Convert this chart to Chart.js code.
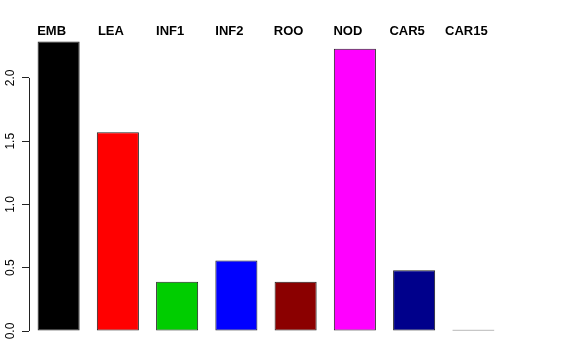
<!DOCTYPE html>
<html>
<head>
<meta charset="utf-8">
<script src="https://cdn.jsdelivr.net/npm/chart.js@4/dist/chart.umd.min.js"></script>
<style>
  html, body { margin: 0; padding: 0; background: #fff; }
  canvas { display: block; }
</style>
</head>
<body>
<canvas id="barChart" width="576" height="360"></canvas>
<script>
// tissue groups and their values
const CATEGORIES = ["EMB", "LEA", "INF1", "INF2", "ROO", "NOD", "CAR5", "CAR15"];
const VALUES = [2.288, 1.571, 0.389, 0.558, 0.389, 2.23, 0.481, 0.01];
const BAR_COLORS = ["#000000", "#ff0000", "#00cd00", "#0000ff", "#8b0000", "#ff00ff", "#00008b", "#333333"];
const Y_TICKS = [0, 0.5, 1, 1.5, 2];

// R style axis line: only from first to last tick
const axisLinePlugin = {
  id: "axisLine",
  afterDraw(chart) {
    const y = chart.scales.y;
    const g = chart.ctx;
    const x = Math.round(y.right) + 0.5;
    g.save();
    g.strokeStyle = "#222";
    g.lineWidth = 1;
    g.beginPath();
    g.moveTo(x, y.getPixelForValue(Y_TICKS[0]));
    g.lineTo(x, y.getPixelForValue(Y_TICKS[Y_TICKS.length - 1]));
    g.stroke();
    g.restore();
  },
};

new Chart(document.getElementById("barChart"), {
  type: "bar",
  data: {
    labels: CATEGORIES,
    datasets: [
      {
        data: VALUES,
        backgroundColor: BAR_COLORS,
        borderColor: "#222",
        borderWidth: 1,
        borderSkipped: false,
        barPercentage: 0.71,
        categoryPercentage: 1,
      },
    ],
  },
  options: {
    responsive: false,
    animation: false,
    layout: { padding: { left: 0, right: 73, top: 0, bottom: 29 } },
    plugins: {
      legend: { display: false },
      tooltip: { enabled: false },
    },
    scales: {
      x: {
        position: "top",
        offset: true,
        grid: { display: false },
        border: { display: false },
        afterFit: (s) => { s.height = 40; },
        ticks: {
          color: "#000",
          font: { family: "Liberation Sans, Arial, sans-serif", size: 13, weight: "bold" },
          autoSkip: false,
          maxRotation: 0,
          labelOffset: -7,
          padding: -7,
        },
      },
      y: {
        min: 0,
        max: 2.3,
        afterFit: (s) => { s.width = 29; },
        afterBuildTicks: (s) => { s.ticks = Y_TICKS.map((v) => ({ value: v })); },
        grid: {
          drawOnChartArea: false,
          color: "#222",
          tickLength: 7,
        },
        border: { display: false },
        ticks: {
          color: "#000",
          font: { family: "Liberation Sans, Arial, sans-serif", size: 12 },
          minRotation: 90,
          maxRotation: 90,
          crossAlign: "center",
          padding: 3,
          callback: (v) => Number(v).toFixed(1),
        },
      },
    },
  },
  plugins: [axisLinePlugin],
});
</script>
</body>
</html>
